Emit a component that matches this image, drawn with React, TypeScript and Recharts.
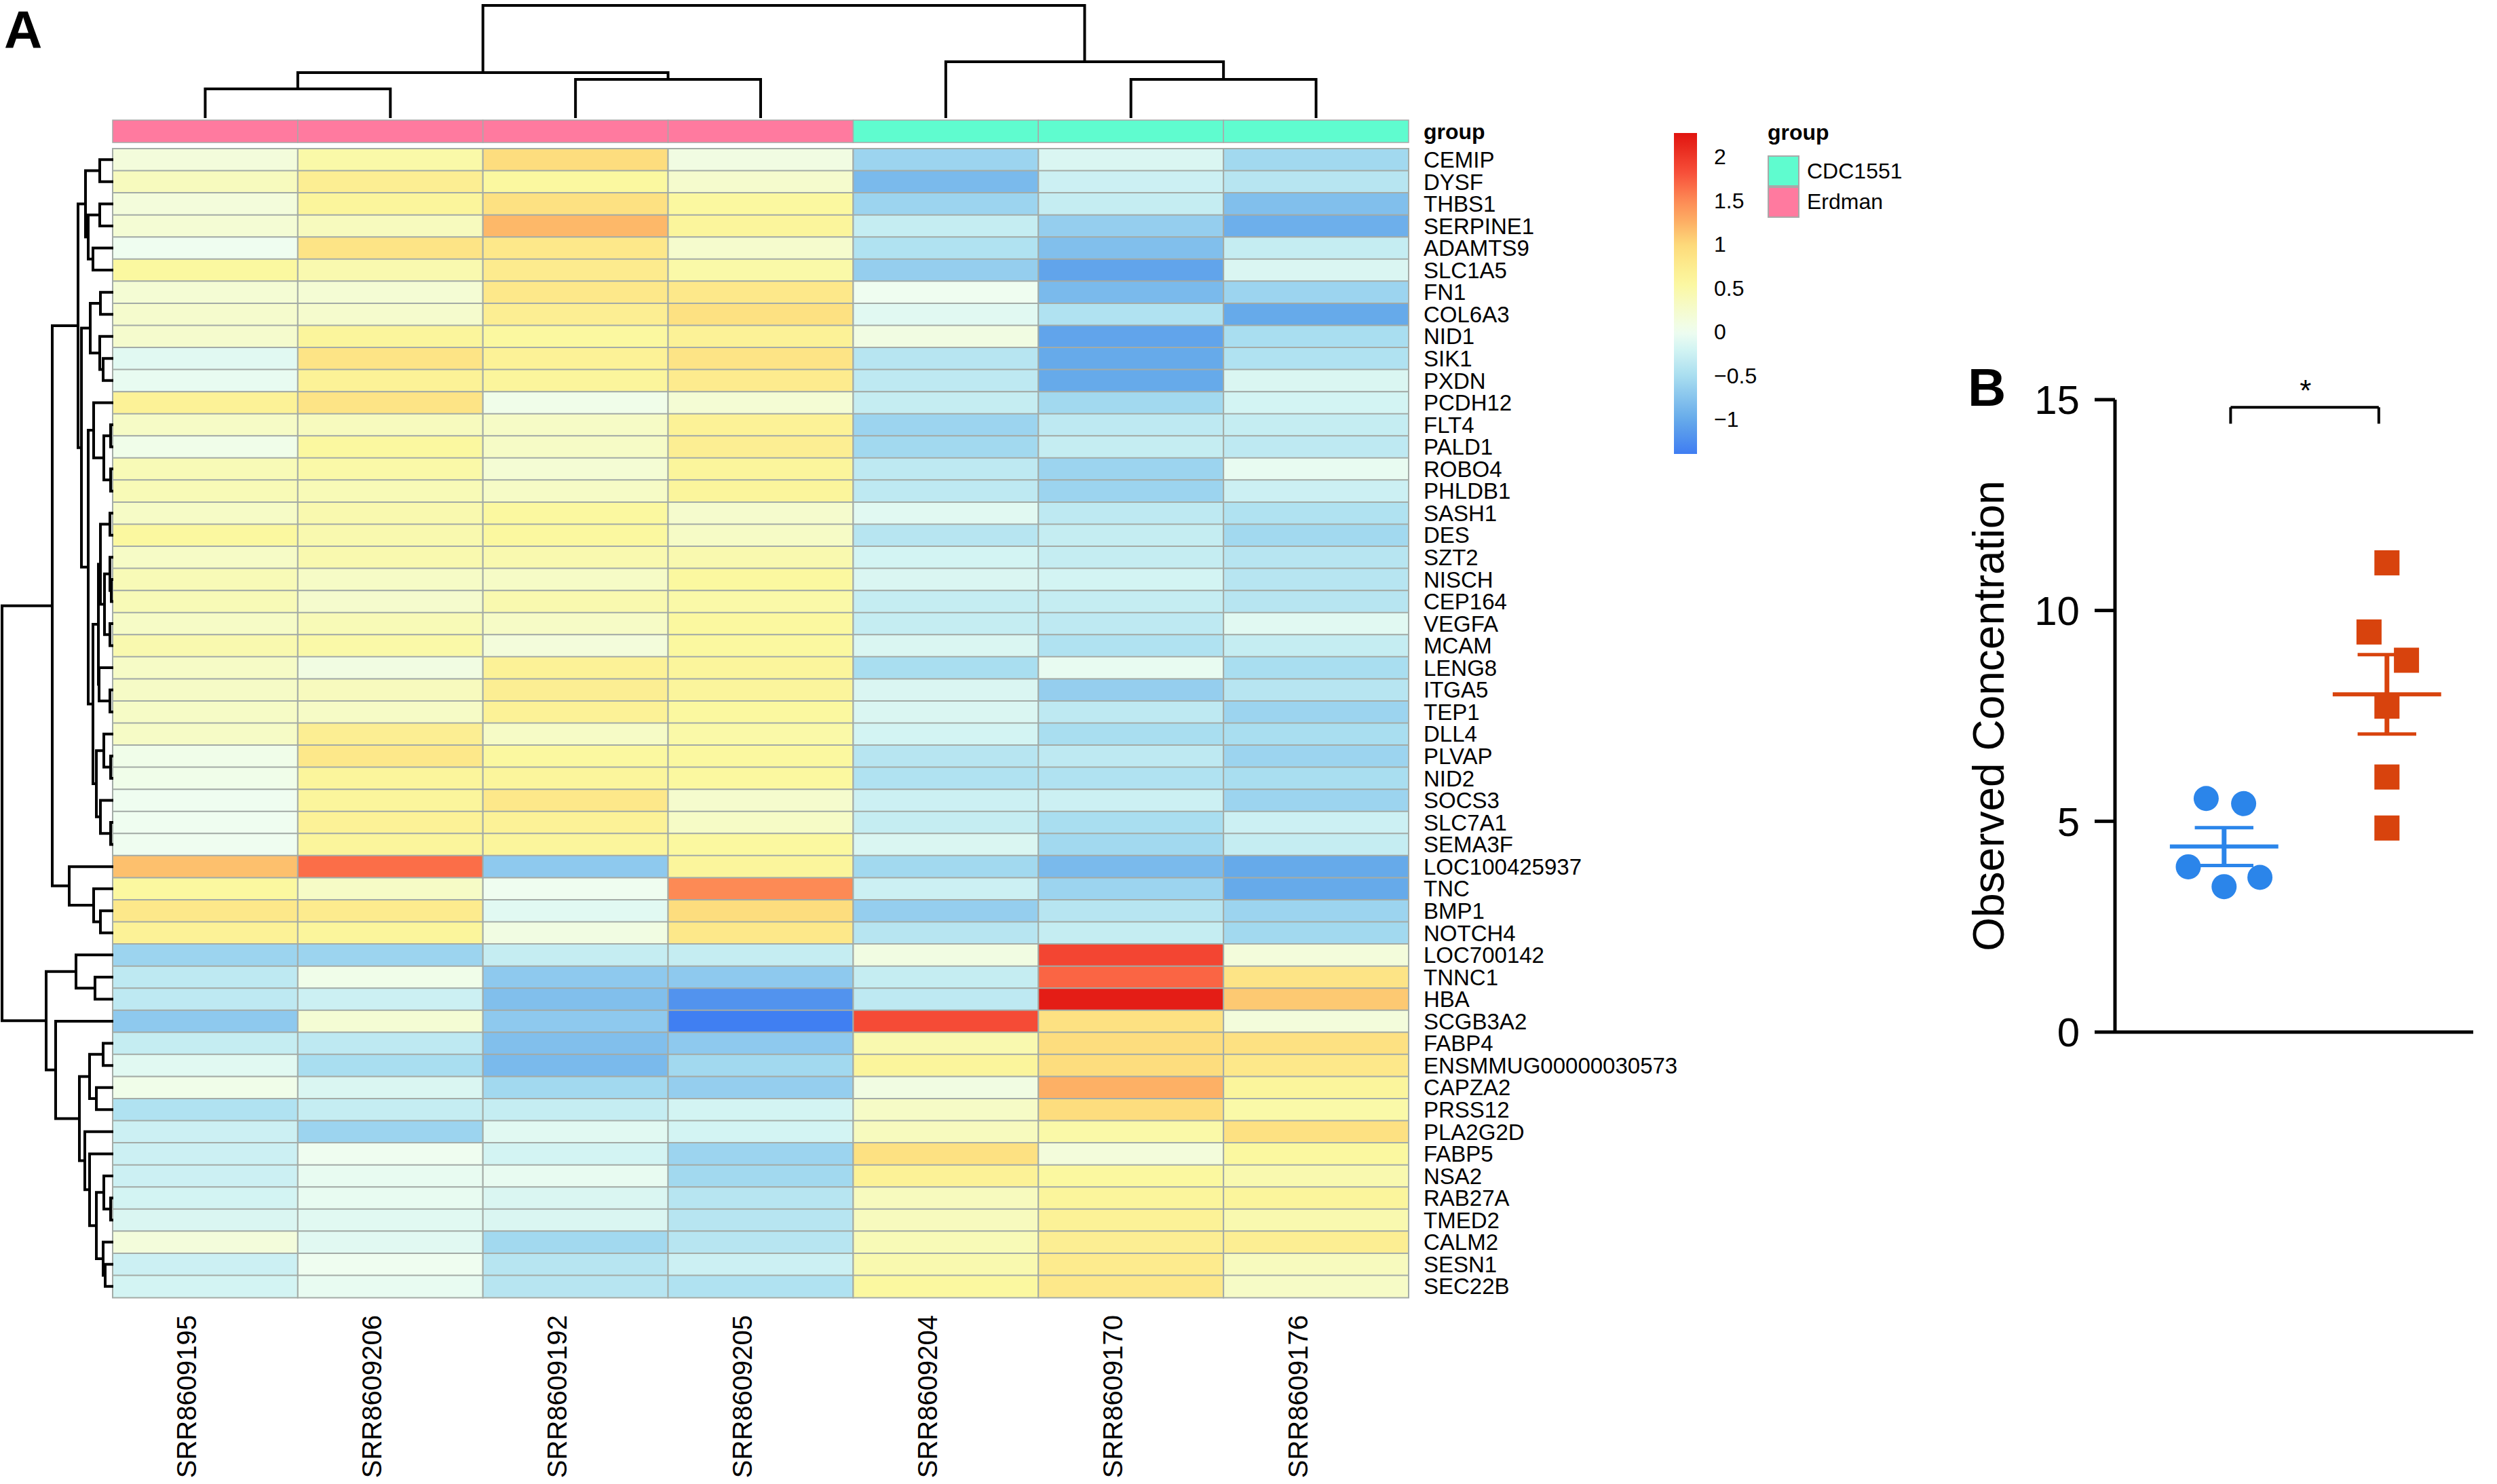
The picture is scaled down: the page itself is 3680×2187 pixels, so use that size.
import React from "react";
import {
  BarChart,
  Bar,
  Cell,
  XAxis,
  YAxis,
  ScatterChart,
  Scatter,
  ReferenceLine,
  ReferenceDot,
  Label,
} from "recharts";

const FONT = '"Liberation Sans", Arial, Helvetica, sans-serif';

const samples = [
  "SRR8609195",
  "SRR8609206",
  "SRR8609192",
  "SRR8609205",
  "SRR8609204",
  "SRR8609170",
  "SRR8609176",
];
const sampleGroups = ["Erdman", "Erdman", "Erdman", "Erdman", "CDC1551", "CDC1551", "CDC1551"];
const groupNames = ["CDC1551", "Erdman"];
const groupColors: Record<string, string> = { CDC1551: "#5ffccf", Erdman: "#ff7a9f" };

const genes = [
  "CEMIP", "DYSF", "THBS1", "SERPINE1", "ADAMTS9", "SLC1A5", "FN1", "COL6A3", "NID1", "SIK1",
  "PXDN", "PCDH12", "FLT4", "PALD1", "ROBO4", "PHLDB1", "SASH1", "DES", "SZT2", "NISCH",
  "CEP164", "VEGFA", "MCAM", "LENG8", "ITGA5", "TEP1", "DLL4", "PLVAP", "NID2", "SOCS3",
  "SLC7A1", "SEMA3F", "LOC100425937", "TNC", "BMP1", "NOTCH4", "LOC700142", "TNNC1", "HBA", "SCGB3A2",
  "FABP4", "ENSMMUG00000030573", "CAPZA2", "PRSS12", "PLA2G2D", "FABP5", "NSA2", "RAB27A", "TMED2", "CALM2",
  "SESN1", "SEC22B",
];

// row z-scores, one array per sample, in gene order
const srr8609195 = [
  0.15, 0.35, 0.15, 0.2, 0.0, 0.55, 0.2, 0.25, 0.25, -0.1, -0.05, 0.65, 0.3, 0.05, 0.4, 0.4, 0.3, 0.55,
  0.3, 0.4, 0.4, 0.3, 0.45, 0.3, 0.3, 0.3, 0.3, 0.05, 0.05, 0.0, 0.0, 0.0, 1.15, 0.55, 0.8, 0.65,
  -0.6, -0.35, -0.35, -0.7, -0.3, -0.1, 0.05, -0.45, -0.25, -0.25, -0.25, -0.2, -0.15, 0.15, -0.25, -0.2,
];
const srr8609206 = [
  0.5, 0.7, 0.6, 0.35, 0.85, 0.45, 0.2, 0.25, 0.6, 0.85, 0.65, 0.85, 0.35, 0.55, 0.5, 0.4, 0.45, 0.45,
  0.45, 0.3, 0.25, 0.4, 0.5, 0.1, 0.35, 0.3, 0.7, 0.8, 0.6, 0.6, 0.65, 0.6, 1.65, 0.3, 0.75, 0.6,
  -0.6, 0.05, -0.25, 0.2, -0.35, -0.5, -0.15, -0.3, -0.6, 0.0, -0.05, -0.05, -0.1, -0.1, 0.0, -0.05,
];
const srr8609192 = [
  0.95, 0.55, 0.9, 1.2, 0.8, 0.75, 0.8, 0.7, 0.55, 0.65, 0.6, 0.05, 0.3, 0.3, 0.2, 0.3, 0.55, 0.55,
  0.45, 0.3, 0.45, 0.3, 0.15, 0.65, 0.7, 0.65, 0.3, 0.55, 0.6, 0.8, 0.65, 0.6, -0.7, 0.0, -0.1, 0.1,
  -0.3, -0.7, -0.8, -0.7, -0.8, -0.85, -0.55, -0.3, -0.1, -0.2, -0.05, -0.15, -0.15, -0.55, -0.4, -0.4,
];
const srr8609205 = [
  0.1, 0.25, 0.55, 0.6, 0.25, 0.5, 0.8, 0.9, 0.65, 0.85, 0.75, 0.2, 0.65, 0.7, 0.6, 0.6, 0.25, 0.3,
  0.45, 0.55, 0.5, 0.55, 0.55, 0.6, 0.6, 0.55, 0.5, 0.55, 0.55, 0.25, 0.3, 0.55, 0.6, 1.5, 0.95, 0.8,
  -0.3, -0.7, -1.2, -1.38, -0.7, -0.55, -0.65, -0.2, -0.2, -0.6, -0.55, -0.4, -0.4, -0.4, -0.25, -0.45,
];
const srr8609204 = [
  -0.6, -0.85, -0.6, -0.3, -0.45, -0.65, 0.0, -0.1, 0.1, -0.4, -0.35, -0.3, -0.6, -0.55, -0.35, -0.35, -0.1, -0.4,
  -0.2, -0.15, -0.3, -0.3, -0.15, -0.5, -0.15, -0.15, -0.2, -0.4, -0.45, -0.25, -0.3, -0.15, -0.55, -0.25, -0.65, -0.4,
  0.1, -0.3, -0.35, 1.85, 0.45, 0.6, 0.1, 0.3, 0.35, 0.9, 0.65, 0.35, 0.35, 0.4, 0.45, 0.55,
];
const srr8609170 = [
  -0.15, -0.25, -0.3, -0.65, -0.8, -1.05, -0.85, -0.45, -1.05, -1.0, -1.0, -0.55, -0.35, -0.3, -0.6, -0.6, -0.35, -0.3,
  -0.3, -0.2, -0.3, -0.35, -0.45, -0.05, -0.65, -0.35, -0.5, -0.35, -0.45, -0.25, -0.5, -0.55, -0.85, -0.6, -0.4, -0.3,
  1.9, 1.7, 2.2, 0.9, 0.95, 0.95, 1.25, 0.95, 0.5, 0.15, 0.55, 0.6, 0.65, 0.7, 0.75, 0.8,
];
const srr8609176 = [
  -0.55, -0.4, -0.8, -0.95, -0.3, -0.15, -0.6, -1.0, -0.5, -0.45, -0.15, -0.2, -0.3, -0.35, -0.05, -0.25, -0.45, -0.55,
  -0.4, -0.4, -0.4, -0.1, -0.3, -0.5, -0.4, -0.6, -0.5, -0.6, -0.5, -0.6, -0.25, -0.3, -1.0, -1.0, -0.6, -0.55,
  0.15, 0.85, 1.1, 0.15, 0.9, 0.8, 0.6, 0.5, 0.9, 0.55, 0.45, 0.6, 0.45, 0.7, 0.35, 0.3,
];
const zScores = [srr8609195, srr8609206, srr8609192, srr8609205, srr8609204, srr8609170, srr8609176];

// hclust-style merges: negative = leaf (1-based), positive = earlier merge; third value = height
const colMerges = [
  [-1, -2, 4.3],
  [-3, -4, 5.7],
  [1, 2, 6.7],
  [-6, -7, 5.7],
  [-5, 4, 8.3],
  [3, 5, 16.6],
];
const rowMerges = [
  [-1, -2, 20], [-3, -4, 20], [-5, -6, 30], [2, 3, 37], [1, 4, 41],
  [-7, -8, 19], [-10, -11, 15], [-9, 7, 20], [6, 8, 34],
  [-13, -14, 4], [-15, -16, 4], [10, 11, 14], [-12, 12, 29],
  [-17, -18, 5], [-20, -21, 3], [-19, 15, 5], [-22, -23, 5], [16, 17, 13], [14, 18, 19],
  [-25, -26, 5], [-24, 20, 21], [19, 21, 22],
  [-28, -29, 4], [-27, 23, 14], [-31, -32, 4], [-30, 25, 19], [24, 26, 25],
  [22, 27, 30], [13, 28, 37], [9, 29, 47], [5, 30, 52],
  [-35, -36, 19], [-34, 32, 29], [-33, 33, 65], [31, 34, 90],
  [-38, -39, 27], [-37, 36, 55],
  [-41, -42, 15], [-43, -44, 25], [38, 39, 35],
  [-48, -49, 4], [-47, 41, 14], [-51, -52, 12], [-50, 43, 15], [42, 44, 25], [-46, 45, 35], [-45, 46, 42],
  [40, 47, 50], [-40, 48, 85], [37, 49, 99], [35, 50, 164],
];

const zRange: [number, number] = [-1.395, 2.27];
const colorTicks = [-1, -0.5, 0, 0.5, 1, 1.5, 2];

// panel B
const cdcX = [0.89, 1.12, 0.78, 1.0, 1.22];
const cdcY = [5.54, 5.42, 3.92, 3.45, 3.67];
const erdX = [2.0, 1.89, 2.12, 2.0, 2.0, 2.0];
const erdY = [11.13, 9.49, 8.82, 7.73, 6.05, 4.84];
const groupX = [1, 2];
const bYTicks = [0, 5, 10, 15];

const zStops: [number, string][] = [
  [-1.395, "#3f7df2"],
  [-1.0, "#66aaea"],
  [-0.5, "#a9def0"],
  [-0.2, "#d3f4f3"],
  [0, "#effdf0"],
  [0.3, "#f6fbc6"],
  [0.55, "#fbf8a0"],
  [0.8, "#fde88a"],
  [1.0, "#fdd97a"],
  [1.25, "#fdb065"],
  [1.5, "#fd8a55"],
  [1.8, "#f8523b"],
  [2.27, "#e0140f"],
];

function hexRgb(c: string) {
  return [1, 3, 5].map((i) => parseInt(c.slice(i, i + 2), 16));
}

function zColor(v: number) {
  if (v <= zStops[0][0]) return zStops[0][1];
  for (let i = 1; i < zStops.length; i++) {
    if (v <= zStops[i][0]) {
      const t = (v - zStops[i - 1][0]) / (zStops[i][0] - zStops[i - 1][0]);
      const a = hexRgb(zStops[i - 1][1]);
      const b = hexRgb(zStops[i][1]);
      return `rgb(${a.map((x, j) => Math.round(x + (b[j] - x) * t)).join(",")})`;
    }
  }
  return zStops[zStops.length - 1][1];
}

function dendroPaths(merges: number[][]) {
  const pos: number[] = [];
  const hgt: number[] = [];
  return merges.map(([a, b, h], k) => {
    const pa = a < 0 ? -a - 0.5 : pos[a - 1];
    const ha = a < 0 ? 0 : hgt[a - 1];
    const pb = b < 0 ? -b - 0.5 : pos[b - 1];
    const hb = b < 0 ? 0 : hgt[b - 1];
    pos[k] = (pa + pb) / 2;
    hgt[k] = h;
    return [
      { p: pa, h: ha },
      { p: pa, h },
      { p: pb, h },
      { p: pb, h: hb },
    ];
  });
}

const cellKeys = samples.map((_, j) => `c${j}`);
const ones = Object.fromEntries(cellKeys.map((k) => [k, 1]));
const heatRows = genes.map((gene) => ({ gene, ...ones }));
const sampleTicks = samples.map((_, j) => j + 0.5);

const NoDot = () => <g />;
const LINE = { stroke: "#000", strokeWidth: 4 };

function SampleTick(props: any) {
  const { x, y, payload } = props;
  const tx = x - 27;
  return (
    <text
      x={tx}
      y={y}
      transform={`rotate(-90 ${tx} ${y})`}
      textAnchor="end"
      dy="0.35em"
      fontSize={40}
      fill="#000"
    >
      {samples[Math.round(payload.value - 0.5)]}
    </text>
  );
}

function Heatmap() {
  return (
    <div style={{ position: "absolute", left: 0, top: 0 }}>
      <BarChart
        width={2600}
        height={2187}
        data={heatRows}
        layout="vertical"
        barCategoryGap={0}
        barGap={0}
        margin={{ top: 219, right: 0, bottom: 0, left: 166 }}
      >
        <XAxis
          type="number"
          domain={[0, samples.length]}
          ticks={sampleTicks}
          interval={0}
          height={275}
          axisLine={false}
          tickLine={false}
          tickSize={0}
          tickMargin={26}
          tick={(p: any) => <SampleTick {...p} />}
        />
        <YAxis
          type="category"
          dataKey="gene"
          orientation="right"
          width={524}
          interval={0}
          axisLine={false}
          tickLine={false}
          tickSize={0}
          tickMargin={22}
          tick={{ fontSize: 33, fill: "#000" }}
        />
        {cellKeys.map((key, j) => (
          <Bar key={key} dataKey={key} stackId="cells" isAnimationActive={false}>
            {genes.map((g, i) => (
              <Cell key={g} fill={zColor(zScores[j][i])} stroke="#a3aba6" strokeWidth={2} />
            ))}
          </Bar>
        ))}
      </BarChart>
    </div>
  );
}

function GroupBar() {
  return (
    <div style={{ position: "absolute", left: 0, top: 0 }}>
      <BarChart
        width={2600}
        height={215}
        data={[{ name: "group", ...ones }]}
        layout="vertical"
        barCategoryGap={0}
        margin={{ top: 177, right: 0, bottom: 5, left: 166 }}
      >
        <XAxis type="number" domain={[0, samples.length]} hide />
        <YAxis
          type="category"
          dataKey="name"
          orientation="right"
          width={524}
          axisLine={false}
          tickLine={false}
          tickSize={0}
          tickMargin={22}
          tick={{ fontSize: 32, fontWeight: 700, fill: "#000" }}
        />
        {cellKeys.map((key, j) => (
          <Bar
            key={key}
            dataKey={key}
            stackId="g"
            fill={groupColors[sampleGroups[j]]}
            stroke="#a8a8a8"
            strokeWidth={1.5}
            isAnimationActive={false}
          />
        ))}
      </BarChart>
    </div>
  );
}

function ColDendrogram() {
  const paths = dendroPaths(colMerges);
  return (
    <div style={{ position: "absolute", left: 0, top: 0 }}>
      <ScatterChart width={2080} height={180} margin={{ top: 8, right: 4, bottom: 6, left: 166 }}>
        <XAxis type="number" dataKey="x" domain={[0, samples.length]} hide />
        <YAxis type="number" dataKey="y" domain={[0, 16.6]} hide />
        {paths.map((pts, k) => (
          <Scatter
            key={k}
            data={pts.map((q) => ({ x: q.p, y: q.h }))}
            line={LINE}
            shape={NoDot}
            isAnimationActive={false}
          />
        ))}
      </ScatterChart>
    </div>
  );
}

function RowDendrogram() {
  const paths = dendroPaths(rowMerges);
  return (
    <div style={{ position: "absolute", left: 0, top: 0 }}>
      <ScatterChart width={172} height={1920} margin={{ top: 219, right: 5, bottom: 8, left: 3 }}>
        <XAxis type="number" dataKey="x" domain={[0, 164]} reversed hide />
        <YAxis type="number" dataKey="y" domain={[0, genes.length]} reversed hide />
        {paths.map((pts, k) => (
          <Scatter
            key={k}
            data={pts.map((q) => ({ x: q.h, y: q.p }))}
            line={LINE}
            shape={NoDot}
            isAnimationActive={false}
          />
        ))}
      </ScatterChart>
    </div>
  );
}

function ColorBar() {
  const n = 40;
  const stops = Array.from({ length: n + 1 }, (_, i) => {
    const v = zRange[1] - ((zRange[1] - zRange[0]) * i) / n;
    return <stop key={i} offset={`${(i / n) * 100}%`} stopColor={zColor(v)} />;
  });
  return (
    <div style={{ position: "absolute", left: 2400, top: 150 }}>
      <BarChart
        width={300}
        height={550}
        data={[{ name: "z", range: zRange }]}
        barCategoryGap={0}
        margin={{ top: 46, right: 0, bottom: 31, left: 67 }}
      >
        <defs>
          <linearGradient id="zgrad" x1="0" y1="0" x2="0" y2="1">
            {stops}
          </linearGradient>
        </defs>
        <XAxis dataKey="name" hide />
        <YAxis
          type="number"
          domain={zRange}
          ticks={colorTicks}
          orientation="right"
          width={199}
          allowDataOverflow
          axisLine={false}
          tickLine={false}
          tickSize={0}
          tickMargin={25}
          tick={{ fontSize: 32, fill: "#000" }}
          tickFormatter={(v: number) => String(v).replace("-", "\u2212")}
        />
        <Bar dataKey="range" fill="url(#zgrad)" isAnimationActive={false} />
      </BarChart>
    </div>
  );
}

function GroupLegend() {
  return (
    <>
      <div
        style={{
          position: "absolute",
          left: 2605,
          top: 179,
          fontSize: 32,
          lineHeight: "32px",
          fontWeight: 700,
        }}
      >
        group
      </div>
      {groupNames.map((g, i) => (
        <React.Fragment key={g}>
          <div
            style={{
              position: "absolute",
              left: 2605,
              top: 229 + i * 46,
              width: 47,
              height: 46,
              boxSizing: "border-box",
              background: groupColors[g],
              border: "2px solid #a9a9a9",
            }}
          />
          <div
            style={{
              position: "absolute",
              left: 2663,
              top: 236 + i * 45,
              fontSize: 32,
              lineHeight: "32px",
            }}
          >
            {g}
          </div>
        </React.Fragment>
      ))}
    </>
  );
}

function mean(a: number[]) {
  return a.reduce((s, v) => s + v, 0) / a.length;
}
function sem(a: number[]) {
  const m = mean(a);
  const sd = Math.sqrt(a.reduce((s, v) => s + (v - m) ** 2, 0) / (a.length - 1));
  return sd / Math.sqrt(a.length);
}

const Circle = (props: any) => <circle cx={props.cx} cy={props.cy} r={18.5} fill="#2b85ea" />;
const Square = (props: any) => (
  <rect x={props.cx - 18.5} y={props.cy - 18.5} width={37} height={37} fill="#d8430d" />
);

function YTitle(props: any) {
  const vb = props.viewBox ?? { x: 0, y: 89, width: 267, height: 932 };
  const cx = vb.x + 81;
  const cy = vb.y + vb.height / 2;
  return (
    <text
      x={cx}
      y={cy}
      transform={`rotate(-90 ${cx} ${cy})`}
      textAnchor="middle"
      dy="0.35em"
      fontSize={64}
      fill="#000"
    >
      Observed Concentration
    </text>
  );
}

function PanelB() {
  const groups = [
    { x: groupX[0], ys: cdcY, color: "#2b85ea" },
    { x: groupX[1], ys: erdY, color: "#d8430d" },
  ];
  const bracketY = 14.82;
  const bracketDrop = 0.39;
  const bx1 = groupX[0] + 0.04;
  const bx2 = groupX[1] - 0.05;
  return (
    <div style={{ position: "absolute", left: 2850, top: 500 }}>
      <ScatterChart width={830} height={1100} margin={{ top: 89, right: 35, bottom: 78, left: 0 }}>
        <XAxis
          type="number"
          dataKey="x"
          domain={[0.33, 2.53]}
          height={1}
          tick={false}
          tickLine={false}
          axisLine={{ stroke: "#000", strokeWidth: 5 }}
          allowDataOverflow
        />
        <YAxis
          type="number"
          dataKey="y"
          domain={[0, 15]}
          ticks={bYTicks}
          width={267}
          allowDataOverflow
          axisLine={{ stroke: "#000", strokeWidth: 5 }}
          tickLine={{ stroke: "#000", strokeWidth: 5 }}
          tickSize={30}
          tickMargin={22}
          tick={{ fontSize: 60, fill: "#000" }}
        >
          <Label content={(p: any) => <YTitle {...p} />} />
        </YAxis>
        <Scatter
          data={cdcX.map((x, i) => ({ x, y: cdcY[i] }))}
          shape={Circle}
          isAnimationActive={false}
        />
        <Scatter
          data={erdX.map((x, i) => ({ x, y: erdY[i] }))}
          shape={Square}
          isAnimationActive={false}
        />
        {groups.map((g) => {
          const m = mean(g.ys);
          const e = sem(g.ys);
          return (
            <React.Fragment key={g.x}>
              <ReferenceLine
                segment={[{ x: g.x - 0.333, y: m }, { x: g.x + 0.333, y: m }]}
                stroke={g.color}
                strokeWidth={6}
              />
              <ReferenceLine
                segment={[{ x: g.x, y: m - e }, { x: g.x, y: m + e }]}
                stroke={g.color}
                strokeWidth={7}
              />
              <ReferenceLine
                segment={[{ x: g.x - 0.18, y: m + e }, { x: g.x + 0.18, y: m + e }]}
                stroke={g.color}
                strokeWidth={5}
              />
              <ReferenceLine
                segment={[{ x: g.x - 0.18, y: m - e }, { x: g.x + 0.18, y: m - e }]}
                stroke={g.color}
                strokeWidth={5}
              />
            </React.Fragment>
          );
        })}
        <ReferenceLine
          segment={[{ x: bx1, y: bracketY }, { x: bx2, y: bracketY }]}
          stroke="#000"
          strokeWidth={4}
        />
        <ReferenceLine
          segment={[{ x: bx1, y: bracketY }, { x: bx1, y: bracketY - bracketDrop }]}
          stroke="#000"
          strokeWidth={4}
        />
        <ReferenceLine
          segment={[{ x: bx2, y: bracketY }, { x: bx2, y: bracketY - bracketDrop }]}
          stroke="#000"
          strokeWidth={4}
        />
        <ReferenceDot
          x={(groupX[0] + groupX[1]) / 2}
          y={14.97}
          r={0}
          shape={(p: any) => (
            <text x={p.cx} y={p.cy} textAnchor="middle" fontSize={44} fill="#000">
              *
            </text>
          )}
        />
      </ScatterChart>
    </div>
  );
}

export default function App() {
  return (
    <div
      style={{
        position: "absolute",
        left: 0,
        top: 0,
        width: 3680,
        height: 2187,
        background: "#fff",
        overflow: "hidden",
        fontFamily: FONT,
        color: "#000",
      }}
    >
      <Heatmap />
      <GroupBar />
      <ColDendrogram />
      <RowDendrogram />
      <ColorBar />
      <GroupLegend />
      <PanelB />
      <div
        style={{ position: "absolute", left: 6, top: 5, fontSize: 78, lineHeight: "78px", fontWeight: 700 }}
      >
        A
      </div>
      <div
        style={{ position: "absolute", left: 2900, top: 532, fontSize: 78, lineHeight: "78px", fontWeight: 700 }}
      >
        B
      </div>
    </div>
  );
}
